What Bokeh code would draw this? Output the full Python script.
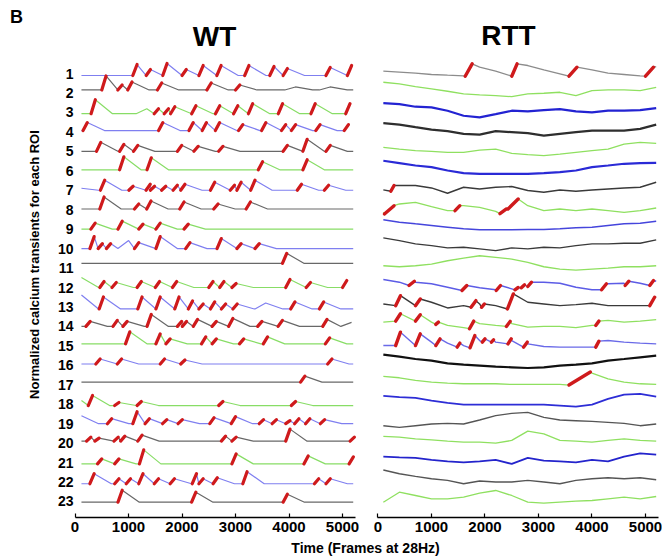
import numpy as np
from bokeh.plotting import figure
from bokeh.models import Range1d, LinearAxis, FixedTicker, ColumnDataSource
from bokeh.core.properties import value
from bokeh.embed import file_html
from bokeh.resources import INLINE

# ---------------- data ----------------
ROI_LABELS = [str(i) for i in range(1, 24)]
X_TICKS = [0, 1000, 2000, 3000, 4000, 5000]
PANEL_TITLES = ["WT", "RTT"]
X_LABEL = "Time (Frames at 28Hz)"
Y_LABEL = "Normalized calcium transients for each ROI"
TRACE_START = 120
TRACE_END = 5200

# WT: red transients, (onset frame, rise amplitude in px)
WT_EVENTS = [
    [(1080, 11), (1330, 6), (1640, 12), (2000, 6), (2315, 10), (2650, 10), (3170, 10), (3640, 9), (3890, 7), (4690, 8), (5090, 10)],
    [(500, 14), (800, 5), (985, 8), (1540, 7), (2465, 7), (3000, 5)],
    [(300, 14), (1480, 5), (1667, 5), (1785, 7), (2180, 8), (2625, 8), (2963, 8), (3241, 10), (3800, 10), (4410, 10), (5060, 10)],
    [(150, 8), (1562, 8), (2130, 8), (2377, 8), (2623, 8), (3056, 6), (3488, 8), (3858, 6), (4043, 6), (4500, 6), (5031, 6)],
    [(401, 9), (833, 7), (1093, 6), (1914, 6), (2222, 5), (2685, 5), (3889, 6), (4259, 12), (4691, 6)],
    [(833, 13), (1346, 12), (3426, 8), (4259, 10)],
    [(475, 10), (1006, 4), (1327, 6), (1407, 4), (1617, 4), (1833, 5), (1975, 6), (2531, 8), (2901, 5), (3025, 8), (3284, 10), (4154, 6), (4660, 5)],
    [(463, 12), (1111, 5), (1340, 8), (1957, 7), (2593, 5), (3198, 7)],
    [(296, 6), (802, 8), (1191, 5), (1512, 6), (2037, 5)],
    [(278, 12), (432, 5), (586, 5), (1111, 6), (1512, 12), (2068, 6), (2654, 10), (3025, 5), (3364, 5)],
    [(3877, 10)],
    [(463, 6), (691, 5), (1160, 6), (1500, 6), (1821, 6), (2500, 6), (2704, 6), (2932, 4), (3938, 8), (4321, 5), (5000, 7)],
    [(451, 12), (1173, 12), (1512, 12), (1864, 12), (2117, 8), (2315, 5), (2531, 7), (2735, 5), (2951, 5), (4031, 7), (4568, 7)],
    [(204, 5), (710, 6), (895, 5), (1346, 12), (1914, 5), (2006, 5), (2210, 7), (2562, 5), (2870, 8), (3414, 5), (3796, 6), (4630, 7)],
    [(944, 12), (1512, 10), (1698, 5), (2364, 7), (2562, 5), (3074, 5), (3519, 7), (4679, 6)],
    [(389, 5), (790, 5), (1593, 5), (1975, 4), (4722, 5)],
    [(4216, 6)],
    [(247, 10), (741, 3), (1160, 4), (2685, 4), (4043, 4)],
    [(605, 5), (1080, 12), (1309, 5), (1636, 4), (1926, 4), (2519, 6), (2920, 7), (3444, 4), (3685, 4), (3938, 3), (4105, 5), (4309, 5), (4586, 4)],
    [(216, 4), (370, 3), (728, 4), (852, 5), (1173, 6), (2735, 5), (2932, 4), (3938, 12), (5142, 4)],
    [(420, 5), (741, 5), (1204, 14), (2932, 10), (4278, 8), (5123, 7)],
    [(278, 10), (741, 5), (957, 5), (1191, 10), (1481, 5), (1778, 5), (2191, 10), (2315, 5), (2580, 6), (3136, 12), (4475, 5), (4691, 5)],
    [(802, 12), (2179, 10), (3889, 8)],
]
# WT: non-red humps of the trace, (frame, amplitude px), by ROI number
WT_BUMPS = {2: [(3920, 3), (4568, 3)], 3: [(1142, 5)], 10: [(802, 8)], 13: [(3364, 6)], 14: [(4969, 4)]}
# WT: level at the first frame (px above baseline)
WT_START = [0, 0, 0, 0, 0, 0, 2, 0, 0, 0, 0, 10, 14, 0, 0, 0, 0, 5, 8, 0, 0, 0, 0]
# WT: baseline offset from the ROI label (px)
WT_OFFSET = [-2, 3, -1.3, 1.3, 0, 1, 0, 0.7, 0, 0, 4.7, 0, -2, 0, 2, 1.3, 2.7, -1.3, 0, 2, -1.3, -1.7, -0.7]

# RTT: trace level (px above ROI label) at these frames
RTT_FRAMES = [100, 400, 700, 1000, 1300, 1600, 1900, 2200, 2500, 2800, 3100, 3400, 3700, 4000, 4300, 4600, 4900, 5200]
RTT_LEVELS = [
    [2.3, 1.3, 0.3, -1, -1.7, -2.3, 6.3, 2.3, -2.3, 8, 3.7, -0.3, -2.7, 3.7, 0.3, -1, -2.3, 7],
    [10.7, 9, 6.3, 4, 1.7, -1, -2, -2.7, -3.7, -1, -0.3, 0.7, -2.7, 2.3, 3, 3, 2.3, 5.7],
    [9.3, 8.3, 5.7, 5, 1.7, -3.3, -5, -1.7, 1.7, 1, 2.3, 3.3, 1, 0, 1.7, 1.7, 2.3, 4.3],
    [8.7, 7.3, 4.7, 2.3, 0.7, -2, -2.7, 0.7, -0.3, -1.3, -3.7, -2, -0.3, 1.3, 1.3, 1.3, 3, 7.3],
    [4, 2.3, 0.7, 0, -1, -1, 1.3, 2.3, -2, -3.3, -4.3, -2.7, -1, 0.7, 2.3, 7.3, 9, 8],
    [10, 7.7, 5.3, 3.7, 0.3, -2.3, -3, -3, -3, -3, -2.3, -1.3, 0.3, 3.7, 5.3, 7, 7.7, 8],
    [0.3, 4.7, 4.7, 2.3, -3, 3, 1.3, 3, 3.7, -0.3, -2, 0.3, -1, 0.3, 1.3, 2.3, 3, 8],
    [-2.7, 5.7, 7.3, 3, -1, 4, 2.3, -1.7, 8, 4, -1, 0.7, -1, 0.7, -1, -2.7, -1, 1.7],
    [9.3, 7, 5.3, 3.7, 2, 0.3, -0.7, -0.7, -0.7, -0.3, -0.3, 0.3, 1.3, 2, 3.7, 5.3, 6, 8],
    [10.7, 8, 4.7, 3, 0.7, 1.3, -0.3, -2, 0.7, -0.3, 1.3, 0.7, 3, 4.7, 4.7, 5.3, 5.3, 8.7],
    [2.3, 1.3, 2.3, 4, 7.3, 10, 12.3, 10.7, 9, 5.7, 1.3, -1, -2, -1, 0, 1.3, 1.3, 2.3],
    [8, 5.3, 5.3, 3.7, 0.3, -1.3, -0.3, -2.3, -1.3, 3, 5.3, 4.3, 0.3, -2.3, 3.7, 4.3, 4.3, 6.3],
    [3, 8, 3, 4.7, -1, 1.3, 3, 1.3, 8, 4.7, 3, 1.3, 2.3, 3.7, 1.3, 1.3, 1.3, 9.7],
    [4.3, 8, 4.3, 4.3, 1, -1.3, 2.7, 1, 2.7, -0.7, 0, 0, -1.3, 1, 6, 4.3, 5.3, 6.7],
    [0.3, 8, 6, 3.7, 2.7, 0.3, 5.3, 3.7, 5.3, 2, -0.7, -1.3, -1.3, -1.3, 5.3, 3.7, 2.7, 2],
    [10.7, 8.7, 6.3, 4.7, 2, 0.7, -0.3, -1.3, -2, -2.7, -2, -0.3, 0.7, 2, 4.7, 6.3, 8, 9.7],
    [8.3, 7, 4.3, 2.7, 1.7, 1, 1, 1, 0.3, 0.3, 0.3, 0.3, 5, 11.7, 6, 2.7, 1, 0.3],
    [8.3, 7, 6.3, 3.7, 1.3, -0.3, -0.3, -0.3, -0.3, -0.3, -0.3, -1.3, -2.3, -0.3, 5.3, 9.7, 10.3, 7.7],
    [-2, -3.7, -2, -0.3, 0.3, -0.3, 3.7, 8, 10.3, 11.3, 6.3, 3.7, 3, 2.3, 1.3, 0.3, -2, -0.3],
    [6.7, 6, 4.3, 3.3, 2, 1, 1, 0, 2.7, 12, 9.3, 2.7, 2, 1, 2.7, 4.3, 2.7, 2],
    [6, 5.3, 4.7, 2.7, 1.3, 0.3, 1.3, 2.7, -1.3, 4.7, 2, 1.3, 0.3, 2.7, 1.3, 6, 9.3, 8],
    [12, 8.3, 5.7, 3.3, 1.7, -1.7, 1, 0, 0, 1.7, 0, -1.7, 1.7, 3.3, 4.3, 3.3, 4.3, 2.3],
    [-0.7, 9.3, 6, 2.7, 2.7, 4.3, 8.3, 11, 6, -0.7, -1.7, -0.7, 0.3, 1, 2.7, 4.3, 2.7, 5],
]
# RTT: red transients, (start frame, start px, end frame, end px), by ROI number
RTT_EVENTS = {
    1: [(1630, -2.7, 1760, 9.7), (2500, -2.7, 2600, 9.7), (3570, -2.7, 3720, 6.3), (5000, -2.7, 5150, 6.3)],
    7: [(240, -1, 300, 4.7)],
    8: [(120, -4.3, 300, 4), (1440, -1, 1530, 4), (2280, -4, 2400, 0.7), (2430, 0.7, 2620, 10.7)],
    12: [(580, 2, 680, 6.3), (1570, -3, 1660, 2), (2210, -3, 2290, 2), (2560, -2.3, 2620, 0), (2680, -0.3, 2740, 2.7),
         (2800, 1, 2870, 5.3), (4180, -2.3, 4270, 3.7), (4620, 2, 4690, 6.3), (5080, 2, 5150, 7)],
    13: [(330, 1.3, 420, 11.3), (700, 1.3, 790, 8), (1740, -0.3, 1830, 6.3), (1935, -0.3, 1990, 3), (2420, -2, 2530, 13),
         (5080, 1.3, 5170, 9.7)],
    14: [(330, 5.3, 420, 12.7), (700, 5.3, 790, 11.7), (1080, 2, 1130, 4.3), (1710, -2.3, 1790, 5.3), (2400, 0, 2470, 5),
         (4070, 1, 4130, 5.3)],
    15: [(330, 0.3, 420, 13.7), (700, 0.3, 790, 12), (1080, 0.3, 1160, 7), (1480, -1.3, 1530, 2.7), (1720, -2, 1810, 10.3),
         (1950, 3.7, 2000, 7), (2120, 3.7, 2160, 6), (2430, 2, 2490, 7), (2720, -1.3, 2790, 3.7), (4070, -1.3, 4130, 4.7)],
    17: [(3570, -0.3, 3970, 12.7)],
}

# ---------------- style ----------------
FONT = "Liberation Sans"
PX = 1 / 19.45          # row units per pixel of trace amplitude
RISE, BUMP_RISE, DECAY = 80, 200, 320
RED = "#cf1a1c"
WT_COLORS = ["#7f7ff0", "#686868", "#88dd66"]
RTT_COLORS = ["#8c8c8c", "#8fe060", "#2323d2", "#2e2e2e", "#8fe060", "#2a2ad6", "#3a3a3a", "#8fe060", "#4545dc",
              "#3a3a3a", "#8fe060", "#5c5ce6", "#3a3a3a", "#8fe060", "#6a6ae8", "#111111", "#8fe060", "#2d2dd6",
              "#555555", "#8fe060", "#2424cc", "#555555", "#8fe060"]
RTT_WIDTHS = [1.3, 1.3, 2.2, 2.2, 1.3, 2.2, 1.4, 1.3, 1.5, 1.4, 1.3, 1.4, 1.4, 1.3, 1.4, 2.2, 1.3, 1.8, 1.4, 1.3, 1.8, 1.4, 1.3]


def wt_polyline(events, bumps, start_level):
    marks = sorted([(f, a, True) for f, a in events] + [(f, a, False) for f, a in bumps])
    xs, ys, reds = [TRACE_START], [start_level], []
    pending = TRACE_START + DECAY if start_level else None
    for f, a, red in marks:
        rise = RISE if red else BUMP_RISE
        if pending is not None and pending < f:
            xs.append(pending); ys.append(0.0)
        xs += [f, f + rise]; ys += [0.0, a]
        if red:
            reds.append(([f, f + rise], [0.0, a]))
        pending = f + rise + DECAY
    if pending is None or pending < TRACE_END:
        if pending is not None:
            xs.append(pending); ys.append(0.0)
        xs.append(TRACE_END); ys.append(0.0)
    return xs, ys, reds


def rtt_polyline(levels, events):
    pts = [(f, v) for f, v in zip(RTT_FRAMES, levels) if not any(e[0] <= f <= e[2] for e in events)]
    for f0, v0, f1, v1 in events:
        pts += [(f0, v0), (f1, v1)]
    pts.sort()
    reds = [([f0, f1], [v0, v1]) for f0, v0, f1, v1 in events]
    return [q[0] for q in pts], [q[1] for q in pts], reds


# ---------------- figure ----------------
p = figure(width=662, height=560, x_range=Range1d(-1393, 10981), y_range=Range1d(-2.033, 26.753),
           output_backend="svg", toolbar_location=None, min_border=0,
           x_axis_type=None, y_axis_type=None)
p.extra_x_ranges = {"rtt": Range1d(-7056, 5318)}
p.outline_line_color = None
p.background_fill_color = "white"

wt_lines = dict(xs=[], ys=[], color=[], width=[])
wt_reds = dict(xs=[], ys=[])
for i in range(23):
    row = 24 - (i + 1)
    xs, ys, reds = wt_polyline(WT_EVENTS[i], WT_BUMPS.get(i + 1, []), WT_START[i])
    off = WT_OFFSET[i]
    wt_lines["xs"].append(xs)
    wt_lines["ys"].append([row + (off + v) * PX for v in ys])
    wt_lines["color"].append(WT_COLORS[i % 3])
    wt_lines["width"].append(1.2)
    for rx, ry in reds:
        wt_reds["xs"].append(rx)
        wt_reds["ys"].append([row + (off + v) * PX for v in ry])

rtt_lines = dict(xs=[], ys=[], color=[], width=[])
rtt_reds = dict(xs=[], ys=[])
for i in range(23):
    row = 24 - (i + 1)
    xs, ys, reds = rtt_polyline(RTT_LEVELS[i], RTT_EVENTS.get(i + 1, []))
    rtt_lines["xs"].append(xs)
    rtt_lines["ys"].append([row + v * PX for v in ys])
    rtt_lines["color"].append(RTT_COLORS[i])
    rtt_lines["width"].append(RTT_WIDTHS[i])
    for rx, ry in reds:
        rtt_reds["xs"].append(rx)
        rtt_reds["ys"].append([row + v * PX for v in ry])

p.multi_line("xs", "ys", source=ColumnDataSource(wt_lines), line_color="color", line_width="width")
p.multi_line("xs", "ys", source=ColumnDataSource(wt_reds), line_color=RED, line_width=3.2, line_cap="round")
p.multi_line("xs", "ys", source=ColumnDataSource(rtt_lines), line_color="color", line_width="width",
             x_range_name="rtt")
p.multi_line("xs", "ys", source=ColumnDataSource(rtt_reds), line_color=RED, line_width=3.4, line_cap="round",
             x_range_name="rtt")

# x axes (one per panel), drawn at a fixed height under the traces
AXIS_Y = 0.177
for rng in ("default", "rtt"):
    ax = LinearAxis(x_range_name=rng, fixed_location=AXIS_Y, bounds=(0, 5250),
                    ticker=FixedTicker(ticks=X_TICKS))
    ax.axis_line_width = 1.4
    ax.axis_line_color = "black"
    ax.major_tick_in = 4
    ax.major_tick_out = 0
    ax.major_tick_line_width = 1.2
    ax.minor_tick_line_color = None
    ax.major_label_text_font = FONT
    ax.major_label_text_font_style = "bold"
    ax.major_label_text_font_size = "15px"
    ax.major_label_text_color = "black"
    ax.major_label_standoff = 4
    p.add_layout(ax, "below")

# ROI labels
p.text(x=[-28] * 23, y=[24 - (i + 1) for i in range(23)], text=ROI_LABELS,
       text_font=value(FONT), text_font_style="bold", text_font_size="14px",
       text_align="right", text_baseline="middle", text_color="black")
# panel titles
p.text(x=[2607], y=[24.9], text=[PANEL_TITLES[0]], text_font=value(FONT), text_font_style="bold",
       text_font_size="28px", text_align="center", text_baseline="middle", text_color="black")
p.text(x=[2439], y=[24.95], text=[PANEL_TITLES[1]], text_font=value(FONT), text_font_style="bold",
       text_font_size="28px", text_align="center", text_baseline="middle", text_color="black",
       x_range_name="rtt")
# panel letter
p.text(x=[-1093], y=[25.93], text=["B"], text_font=value(FONT), text_font_style="bold",
       text_font_size="18px", text_align="center", text_baseline="middle", text_color="black")
# axis labels
p.text(x=[-757], y=[13.18], text=[Y_LABEL], angle=np.pi / 2, text_font=value(FONT), text_font_style="bold",
       text_font_size="13px", text_align="center", text_baseline="middle", text_color="black")
p.text(x=[5430], y=[-1.416], text=[X_LABEL], text_font=value(FONT), text_font_style="bold",
       text_font_size="14px", text_align="center", text_baseline="middle", text_color="black")

open("out.html", "w").write(file_html(p, INLINE))
